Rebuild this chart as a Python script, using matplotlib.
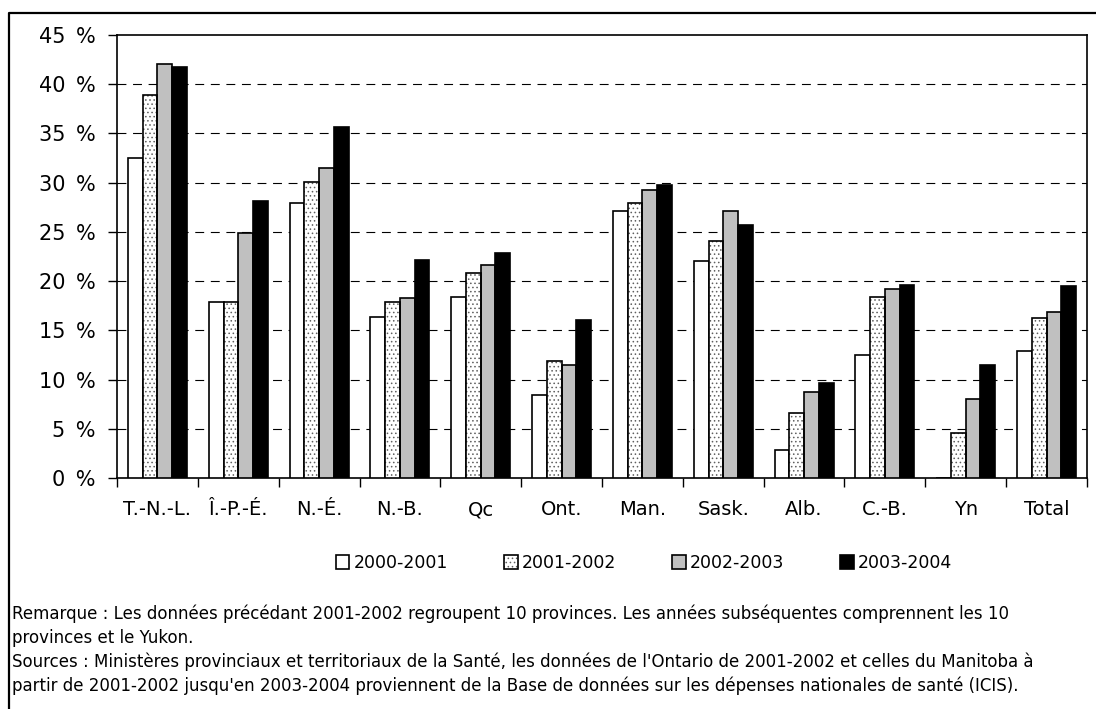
import matplotlib
matplotlib.use("Agg")
import matplotlib.pyplot as plt
import numpy as np
from matplotlib.lines import Line2D
from matplotlib.patches import Patch
from matplotlib.ticker import FixedLocator

plt.rcParams["font.family"] = ["DejaVu Sans"]
plt.rcParams["hatch.linewidth"] = 0.6

provinces = ["T.-N.-L.", "Î.-P.-É.", "N.-É.", "N.-B.", "Qc", "Ont.", "Man.",
             "Sask.", "Alb.", "C.-B.", "Yn", "Total"]
years = ["2000-2001", "2001-2002", "2002-2003", "2003-2004"]

# part in percent, one list per fiscal year (Yn not reported for 2000-2001)
y2000 = [32.5, 17.9, 27.9, 16.4, 18.4, 8.4, 27.1, 22.0, 2.8, 12.5, 0.0, 12.9]
y2001 = [38.9, 17.9, 30.1, 17.9, 20.8, 11.9, 27.9, 24.1, 6.6, 18.4, 4.6, 16.3]
y2002 = [42.1, 24.9, 31.5, 18.3, 21.6, 11.5, 29.3, 27.1, 8.7, 19.2, 8.0, 16.9]
y2003 = [41.8, 28.1, 35.7, 22.1, 22.9, 16.1, 29.8, 25.7, 9.7, 19.6, 11.5, 19.5]

yticks = list(range(0, 50, 5))

W, H = 1096, 709
fig = plt.figure(figsize=(W / 100, H / 100), dpi=100)
ax = fig.add_axes([117 / W, 1 - 478 / H, 970 / W, 443 / H])

x = np.arange(len(provinces))
bw = 0.182
lw = 1.2

ax.bar(x - 1.5 * bw, y2000, bw, color="white", edgecolor="black", linewidth=lw, zorder=3)
# dotted bars: hatch drawn first in grey, then a black outline on top
ax.bar(x - 0.5 * bw, y2001, bw, color="white", edgecolor="#606060",
       hatch="....", linewidth=0, zorder=3)
ax.bar(x - 0.5 * bw, y2001, bw, fill=False, edgecolor="black",
       linewidth=lw, zorder=4)
ax.bar(x + 0.5 * bw, y2002, bw, color="#c0c0c0", edgecolor="black", linewidth=lw, zorder=3)
ax.bar(x + 1.5 * bw, y2003, bw, color="black", edgecolor="black", linewidth=lw, zorder=3)

ax.set_xlim(-0.5, len(provinces) - 0.5)
ax.set_ylim(0, 45)

ax.set_yticks(yticks)
ax.set_yticklabels([f"{v}\u2002%" for v in yticks], fontsize=15)
ax.tick_params(axis="y", direction="out", length=6.5, width=1, pad=9)

ax.set_xticks(x)
ax.set_xticklabels(provinces, fontsize=14)
ax.tick_params(axis="x", which="major", length=0, pad=16)
ax.xaxis.set_minor_locator(FixedLocator(np.arange(-0.5, len(provinces), 1.0)))
ax.tick_params(axis="x", which="minor", direction="out", length=6.5, width=1)

for v in yticks[1:-1]:
    ax.axhline(v, color="black", linewidth=0.8, dashes=(8, 6), zorder=1)

for side in ax.spines.values():
    side.set_linewidth(1.2)

handles = [
    Patch(facecolor="white", edgecolor="black", linewidth=lw),
    (Patch(facecolor="white", edgecolor="#606060", hatch="....", linewidth=0),
     Patch(fill=False, edgecolor="black", linewidth=lw)),
    Patch(facecolor="#c0c0c0", edgecolor="black", linewidth=lw),
    Patch(facecolor="black", edgecolor="black", linewidth=lw),
]
fig.legend(handles, years, loc="center", bbox_to_anchor=(644 / W, 1 - 563 / H),
           ncol=4, frameon=False, fontsize=12.5, handlelength=0.8, handleheight=0.8,
           handletextpad=0.25, columnspacing=3.2)

notes = [
    "Remarque : Les données précédant 2001-2002 regroupent 10 provinces. "
    "Les années subséquentes comprennent les 10",
    "provinces et le Yukon.",
    "Sources : Ministères provinciaux et territoriaux de la Santé, les données de "
    "l'Ontario de 2001-2002 et celles du Manitoba à",
    "partir de 2001-2002 jusqu'en 2003-2004 proviennent de la Base de données sur "
    "les dépenses nationales de santé (ICIS).",
]
for i, line in enumerate(notes):
    fig.text(12 / W, 1 - (614 + 24 * i) / H, line, fontsize=12, va="center", ha="left")

# outer frame, only its top and left sides fall inside the image
fx, fy = 9 / W, 1 - 13 / H
fig.add_artist(Line2D([fx, fx, 1.0], [0.0, fy, fy], color="black", linewidth=1.6,
                      transform=fig.transFigure))

fig.savefig("out.png", dpi=100)
